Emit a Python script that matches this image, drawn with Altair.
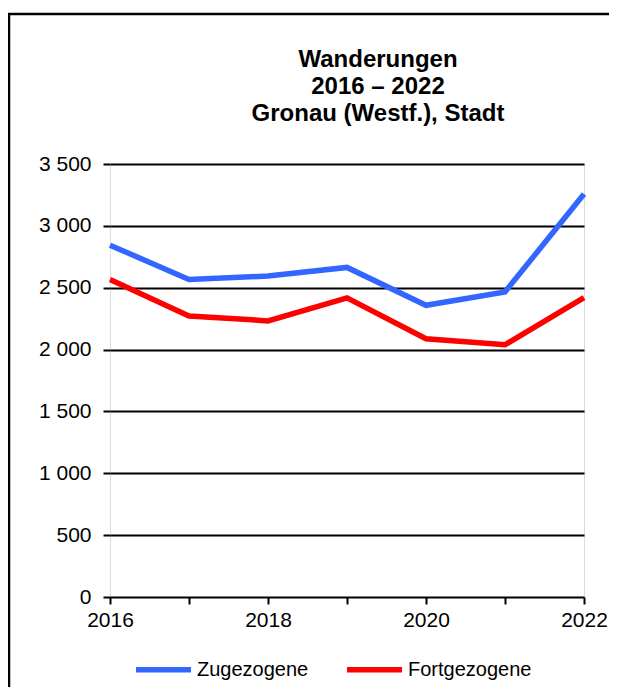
import altair as alt
import pandas as pd

years = [2016, 2017, 2018, 2019, 2020, 2021, 2022]
zugezogene = [2844, 2567, 2594, 2664, 2358, 2466, 3257]
fortgezogene = [2566, 2272, 2232, 2418, 2088, 2039, 2420]
series_names = ["Zugezogene", "Fortgezogene"]
series_colors = ["#3366FF", "#FF0000"]
title_lines = ["Wanderungen", "2016 – 2022", "Gronau (Westf.), Stadt"]
y_ticks = [0, 500, 1000, 1500, 2000, 2500, 3000, 3500]

rows = []
for i, y in enumerate(years):
    rows.append({"Jahr": y, "Wert": zugezogene[i], "Serie": series_names[0], "o": 0})
    rows.append({"Jahr": y, "Wert": fortgezogene[i], "Serie": series_names[1], "o": 1})
df = pd.DataFrame(rows)

FONT = "Liberation Sans"
LBL = 21

lines = alt.Chart(df).mark_line(strokeWidth=5.5, strokeCap="butt", strokeJoin="miter").encode(
    x=alt.X("Jahr:Q", scale=alt.Scale(domain=[2016, 2022], nice=False, zero=False),
            axis=alt.Axis(values=years, title=None, grid=False, domain=False,
                          labelExpr="datum.value % 2 == 0 ? format(datum.value, 'd') : ''",
                          tickColor="black", tickWidth=2, tickSize=7,
                          labelFont=FONT, labelFontSize=LBL, labelColor="black",
                          labelPadding=5, labelFlush=False, labelOverlap=False)),
    y=alt.Y("Wert:Q", scale=alt.Scale(domain=[0, 3500], nice=False),
            axis=alt.Axis(values=y_ticks, title=None, grid=True, gridColor="black",
                          gridWidth=2, gridOpacity=1, domain=False,
                          labelExpr="replace(format(datum.value, ','), ',', ' ')",
                          tickColor="black", tickWidth=2, tickSize=7,
                          labelFont=FONT, labelFontSize=LBL, labelColor="black",
                          labelPadding=12, labelFlush=False, labelOverlap=False)),
    color=alt.Color("Serie:N", scale=alt.Scale(domain=series_names, range=series_colors),
                    legend=alt.Legend(title=None, orient="none", legendX=23, legendY=475,
                                      direction="horizontal", columns=2,
                                      symbolType="stroke", symbolSize=3025,
                                      symbolStrokeWidth=5.5, columnPadding=27,
                                      labelFont=FONT, labelFontSize=20, labelColor="black",
                                      labelOffset=3)),
    order="o:Q",
)

title = alt.Chart(alt.Data(values=[{"t": "\n".join(title_lines)}])).mark_text(
    font=FONT, fontSize=24, fontWeight="bold", color="black", align="center",
    baseline="alphabetic", lineBreak="\n", lineHeight=27
).encode(text="t:N", x=alt.value(268), y=alt.value(-97))

frame_v = alt.Chart(alt.Data(values=[{"a": 1}])).mark_rule(color="black", strokeWidth=2.5).encode(
    x=alt.value(-101), y=alt.value(-150), y2=alt.value(800))
frame_h = alt.Chart(alt.Data(values=[{"a": 1}])).mark_rule(color="black", strokeWidth=2.5).encode(
    x=alt.value(-102), x2=alt.value(700), y=alt.value(-150))

chart = alt.layer(lines, title, frame_v, frame_h).properties(
    width=474, height=433,
    autosize=alt.AutoSizeParams(type="none"),
    padding={"left": 102, "top": 156, "right": 25, "bottom": 90},
).configure_view(
    fill="#FFFFCC", stroke="black", strokeWidth=3
).configure(background="white")

chart.save("out.html", embed_options={"renderer": "svg", "actions": False})
